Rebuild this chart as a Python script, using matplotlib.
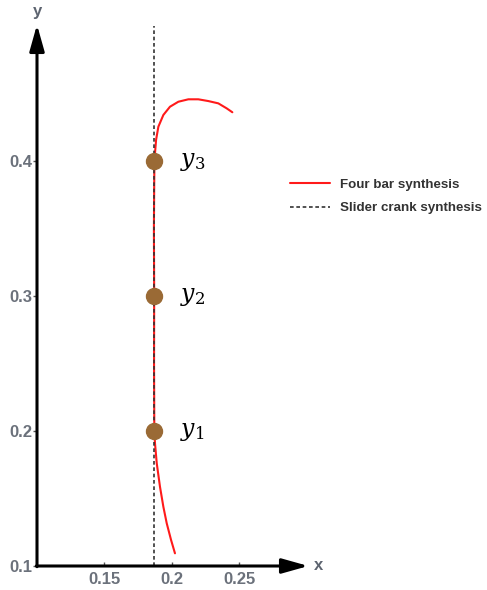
import matplotlib.pyplot as plt

# four bar coupler curve
four_bar_x = [0.2022, 0.1993, 0.1961, 0.1936, 0.1911, 0.1887, 0.1874, 0.1869,
              0.1867, 0.1868, 0.1866, 0.1868, 0.1870, 0.1874, 0.1882, 0.1899,
              0.1936, 0.1985, 0.2047, 0.2121, 0.2195, 0.2269, 0.2343, 0.2405,
              0.2447]
four_bar_y = [0.1094, 0.1193, 0.1316, 0.1439, 0.1587, 0.1761, 0.1909, 0.2000,
              0.2500, 0.3000, 0.3500, 0.3800, 0.4007, 0.4057, 0.4156, 0.4254,
              0.4341, 0.4402, 0.4439, 0.4457, 0.4457, 0.4444, 0.4427, 0.4390,
              0.4361]

# slider crank straight line
slider_x = [0.1867, 0.1867]
slider_y = [0.1, 0.5]

# precision points
point_x = [0.1867, 0.1867, 0.1867]
point_y = [0.2, 0.3, 0.4]
point_labels = ['$y_1$', '$y_2$', '$y_3$']

xticks = [0.15, 0.2, 0.25]
yticks = [0.1, 0.2, 0.3, 0.4]

plt.rcParams['mathtext.fontset'] = 'dejavuserif'

fig = plt.figure(figsize=(4.87, 5.90), dpi=100)
ax = fig.add_axes([37 / 487, 24 / 590, 450 / 487, 566 / 590])
ax.set_xlim(0.1, 0.1 + 450 / 1350)
ax.set_ylim(0.1, 0.1 + 566 / 1350)
for s in ax.spines.values():
    s.set_visible(False)

ax.plot(four_bar_x, four_bar_y, color='#ff1a1a', lw=1.5, label='Four bar synthesis',
        zorder=2, solid_joinstyle='round', solid_capstyle='round')
ax.plot(slider_x, slider_y, color='#333333', lw=1.2, ls=(0, (2.2, 1.6)),
        label='Slider crank synthesis', zorder=3)
ax.plot(point_x, point_y, 'o', color='#9a6a35', ms=11.5, zorder=4)
for px, py, lab in zip(point_x, point_y, point_labels):
    ax.text(px + 0.0195, py, lab, fontsize=17, va='center', ha='left')

# axes with arrows
arrow = dict(arrowstyle='-|>,head_length=1.6,head_width=0.45', color='black', lw=2.2,
             shrinkA=0, shrinkB=0)
ax.annotate('', xy=(0.301, 0.1), xytext=(0.0995, 0.1), arrowprops=arrow, annotation_clip=False)
ax.annotate('', xy=(0.1, 0.501), xytext=(0.1, 0.0995), arrowprops=arrow, annotation_clip=False)
ax.text(0.305, 0.1, 'x', fontsize=12, fontweight='bold', color='#5d6470',
        family='Liberation Sans', va='center', ha='left')
ax.text(0.1, 0.505, 'y', fontsize=12, fontweight='bold', color='#5d6470',
        family='Liberation Sans', va='bottom', ha='center')

ax.set_xticks(xticks)
ax.set_xticklabels(['0.15', '0.2', '0.25'])
ax.set_yticks(yticks)
ax.set_yticklabels(['0.1', '0.2', '0.3', '0.4'])
ax.tick_params(axis='x', direction='in', length=3, width=1, color='#555555', pad=4)
ax.tick_params(axis='y', direction='out', length=3, width=1, color='#555555', pad=0.5)
for t in ax.get_xticklabels() + ax.get_yticklabels():
    t.set_fontsize(12)
    t.set_fontweight('bold')
    t.set_color('#6b717b')
    t.set_family('Liberation Sans')

leg = ax.legend(loc='center left', bbox_to_anchor=(278 / 487, 1 - 196.5 / 590),
                bbox_transform=fig.transFigure, frameon=False, handlelength=3.0,
                handletextpad=0.72, labelspacing=0.85,
                prop={'family': 'Liberation Sans', 'weight': 'bold', 'size': 9.6})
for t in leg.get_texts():
    t.set_color('#333333')

fig.savefig('out.png', dpi=100)
